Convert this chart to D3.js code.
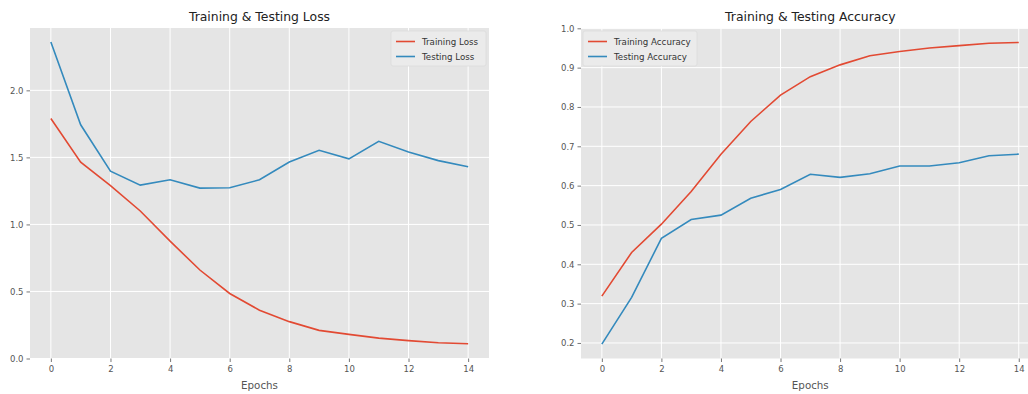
<!DOCTYPE html>
<html><head><meta charset="utf-8">
<script src="https://cdn.jsdelivr.net/npm/d3@7"></script>
<style>body{margin:0;background:#fff}svg{display:block;font-family:"DejaVu Sans",sans-serif}</style>
</head><body><svg id="c" width="1028" height="394"></svg>
<script>
const epochs = [0,1,2,3,4,5,6,7,8,9,10,11,12,13,14];
const trainLoss = [1.79,1.464,1.29,1.10,0.875,0.66,0.485,0.36,0.275,0.21,0.18,0.152,0.133,0.117,0.11];
const testLoss = [2.36,1.743,1.397,1.293,1.333,1.271,1.274,1.333,1.466,1.553,1.489,1.62,1.54,1.476,1.43];
const trainAcc = [0.319,0.43,0.502,0.585,0.68,0.763,0.83,0.877,0.907,0.93,0.941,0.95,0.956,0.962,0.964];
const testAcc = [0.197,0.316,0.466,0.514,0.525,0.568,0.59,0.629,0.621,0.630,0.650,0.650,0.658,0.676,0.680];
const lossTicks = [0.0,0.5,1.0,1.5,2.0];
const accTicks = [0.2,0.3,0.4,0.5,0.6,0.7,0.8,0.9,1.0];
const xTicks = [0,2,4,6,8,10,12,14];

const RED = "#E24A33", BLUE = "#348ABD";
const svg = d3.select("#c");

function panel(o){
  const g = svg.append("g");
  const x = d3.scaleLinear().domain([-0.7,14.7]).range([o.left,o.right]);
  const y = d3.scaleLinear().domain(o.ydom).range([o.bottom,o.top]);
  g.append("rect").attr("x",o.left).attr("y",o.top).attr("width",o.right-o.left).attr("height",o.bottom-o.top).attr("fill","#E5E5E5");
  // grid
  g.selectAll(".gx").data(xTicks).join("line").attr("x1",d=>x(d)).attr("x2",d=>x(d)).attr("y1",o.top).attr("y2",o.bottom).attr("stroke","#fff").attr("stroke-width",1);
  g.selectAll(".gy").data(o.yticks).join("line").attr("y1",d=>y(d)).attr("y2",d=>y(d)).attr("x1",o.left).attr("x2",o.right).attr("stroke","#fff").attr("stroke-width",1);
  // axes
  const xa = g.append("g").attr("transform",`translate(0,${o.bottom})`).call(d3.axisBottom(x).tickValues(xTicks).tickSize(3.5).tickPadding(4).tickFormat(d3.format("d")));
  const ya = g.append("g").attr("transform",`translate(${o.left},0)`).call(d3.axisLeft(y).tickValues(o.yticks).tickSize(3.5).tickPadding(3).tickFormat(d3.format(".1f")));
  [xa,ya].forEach(a=>{a.select(".domain").remove();a.selectAll("line").attr("stroke","#555").attr("stroke-width",0.8);a.selectAll("text").attr("fill","#555").style("font-size","8.5px").style("font-family","DejaVu Sans");});
  // lines
  const line = d3.line().x((d,i)=>x(epochs[i])).y(d=>y(d));
  const clipId = "clip"+o.id;
  svg.append("clipPath").attr("id",clipId).append("rect").attr("x",o.left).attr("y",o.top).attr("width",o.right-o.left).attr("height",o.bottom-o.top);
  o.series.forEach(s=>{
    g.append("path").datum(s.values).attr("d",line).attr("fill","none").attr("stroke",s.color).attr("stroke-width",1.6).attr("clip-path",`url(#${clipId})`);
  });
  // title and label
  g.append("text").attr("x",(o.left+o.right)/2).attr("y",21).attr("text-anchor","middle").attr("fill","#222").style("font-size","12.4px").text(o.title);
  g.append("text").attr("x",(o.left+o.right)/2).attr("y",389).attr("text-anchor","middle").attr("fill","#555").style("font-size","10.3px").text("Epochs");
  // legend
  const L = o.legend;
  g.append("rect").attr("x",L.x).attr("y",L.y).attr("width",L.w).attr("height",L.h).attr("fill","#EBEBEB").attr("stroke","#DCDCDC").attr("stroke-width",0.8).attr("rx",2);
  o.series.forEach((s,i)=>{
    const yy = L.y+10.5+i*15;
    g.append("line").attr("x1",L.x+5).attr("x2",L.x+24).attr("y1",yy).attr("y2",yy).attr("stroke",s.color).attr("stroke-width",1.6);
    g.append("text").attr("x",L.x+31).attr("y",yy+3.2).attr("fill","#333").style("font-size","8.7px").text(s.name);
  });
}

panel({id:1,left:30,right:489,top:28,bottom:358.5,ydom:[-0.0,2.465],yticks:lossTicks,title:"Training & Testing Loss",
  series:[{name:"Training Loss",values:trainLoss,color:RED},{name:"Testing Loss",values:testLoss,color:BLUE}],
  legend:{x:391,y:31,w:95,h:35}});
panel({id:2,left:581,right:1039.6,top:28.3,bottom:358.5,ydom:[0.1605,1.0],yticks:accTicks,title:"Training & Testing Accuracy",
  series:[{name:"Training Accuracy",values:trainAcc,color:RED},{name:"Testing Accuracy",values:testAcc,color:BLUE}],
  legend:{x:583,y:31,w:114,h:35}});
</script></body></html>
